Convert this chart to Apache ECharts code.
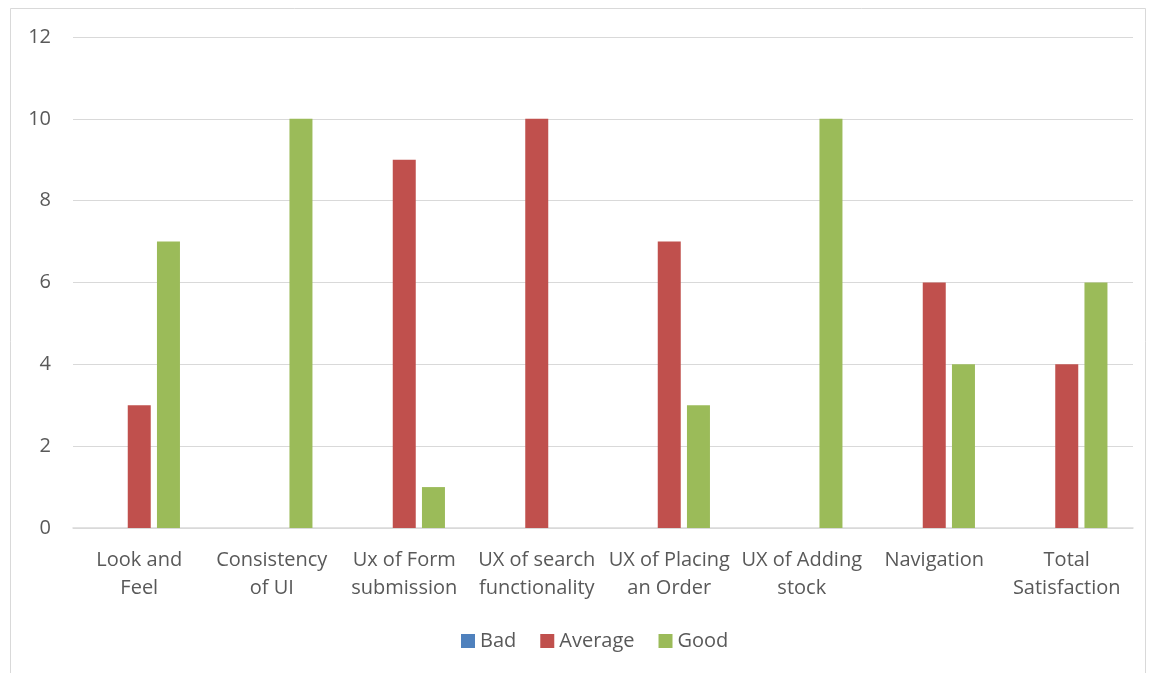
<!DOCTYPE html>
<html>
<head>
<meta charset="utf-8">
<script src="https://cdn.jsdelivr.net/npm/echarts@6/dist/echarts.min.js"></script>
<style>
    html, body { margin: 0; padding: 0; background: #fff; }
    #main { width: 1155px; height: 673px; }
</style>
</head>
<body>
<div id="main"></div>
<script>
    var categories = ['Look and\nFeel', 'Consistency\nof UI', 'Ux of Form\nsubmission', 'UX of search\nfunctionality',
        'UX of Placing\nan Order', 'UX of Adding\nstock', 'Navigation', 'Total\nSatisfaction'];
    var badData = [0, 0, 0, 0, 0, 0, 0, 0];
    var averageData = [3, 0, 9, 10, 7, 0, 6, 4];
    var goodData = [7, 10, 1, 0, 3, 10, 4, 6];

    var myChart = echarts.init(document.getElementById('main'));
    var textFont = 'Open Sans';
    var option = {
        backgroundColor: '#fff',
        animation: false,
        graphic: [{
            type: 'rect',
            shape: { x: 10.5, y: 8.5, width: 1135, height: 700 },
            style: { fill: 'none', stroke: '#d9d9d9', lineWidth: 1 },
            silent: true
        }],
        grid: { left: 73, right: 22, top: 37, bottom: 145 },
        legend: {
            data: ['Bad', 'Average', 'Good'],
            bottom: 17,
            left: 456,
            itemWidth: 14,
            itemHeight: 14,
            itemGap: 24,
            icon: 'rect',
            textStyle: { color: '#595959', fontSize: 20, fontFamily: textFont }
        },
        xAxis: {
            type: 'category',
            data: categories,
            axisTick: { show: false },
            axisLine: { lineStyle: { color: '#d9d9d9', width: 1.5 } },
            axisLabel: {
                color: '#595959', fontSize: 20, fontFamily: textFont,
                lineHeight: 28, margin: 18, interval: 0
            }
        },
        yAxis: {
            type: 'value',
            min: 0, max: 12, interval: 2,
            axisLine: { show: false },
            axisTick: { show: false },
            splitLine: { lineStyle: { color: '#d9d9d9', width: 1 } },
            axisLabel: { color: '#595959', fontSize: 20, fontFamily: textFont, margin: 22 }
        },
        series: [
            { name: 'Bad', type: 'bar', data: badData, barWidth: 23, barGap: '27%', itemStyle: { color: '#4f81bd' } },
            { name: 'Average', type: 'bar', data: averageData, barWidth: 23, barGap: '27%', itemStyle: { color: '#c0504d' } },
            { name: 'Good', type: 'bar', data: goodData, barWidth: 23, barGap: '27%', itemStyle: { color: '#9bbb59' } }
        ]
    };
    myChart.setOption(option);
</script>
</body>
</html>
